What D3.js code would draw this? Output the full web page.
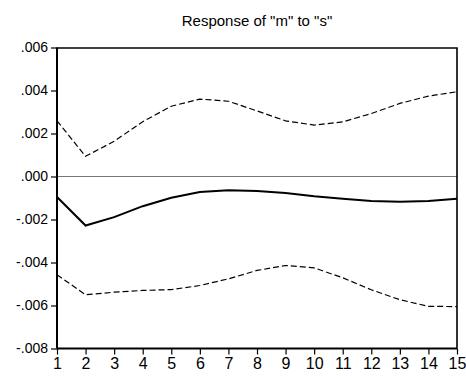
<!DOCTYPE html>
<html>
<head>
<meta charset="utf-8">
<script src="https://cdn.jsdelivr.net/npm/d3@7/dist/d3.min.js"></script>
<style>
  body { margin: 0; background: #fff; }
  text { font-family: Arial, "Liberation Sans", sans-serif; fill: #000; }
</style>
</head>
<body>
<svg id="chart" width="466" height="376"></svg>
<script>
const periods = [1, 2, 3, 4, 5, 6, 7, 8, 9, 10, 11, 12, 13, 14, 15];
const response = [-0.00095, -0.00228, -0.00189, -0.00138, -0.00099, -0.00072, -0.00064, -0.00068,
  -0.00077, -0.00092, -0.00103, -0.00114, -0.00118, -0.00114, -0.00103];
const upperBand = [0.00259, 0.00094, 0.00164, 0.00255, 0.00327, 0.0036, 0.0035, 0.00305,
  0.00259, 0.00239, 0.00254, 0.00293, 0.0034, 0.00374, 0.00394];
const lowerBand = [-0.00457, -0.0055, -0.00538, -0.0053, -0.00526, -0.00507, -0.00476, -0.00437,
  -0.00414, -0.00425, -0.00471, -0.00527, -0.00573, -0.00604, -0.00605];
const yTicks = [0.006, 0.004, 0.002, 0, -0.002, -0.004, -0.006, -0.008];
const yTickLabels = ['.006', '.004', '.002', '.000', '-.002', '-.004', '-.006', '-.008'];
const title = 'Response of "m" to "s"';

const margin = { top: 47.5, right: 9, bottom: 27.5, left: 57 };
const width = 466, height = 376;
const chartWidth = width - margin.left - margin.right;
const chartHeight = height - margin.top - margin.bottom;

const svg = d3.select('#chart');

const xScale = d3.scaleLinear().domain([1, 15]).range([0, chartWidth]);
const yScale = d3.scaleLinear().domain([-0.008, 0.006]).range([chartHeight, 0]);

const g = svg.append('g')
  .attr('transform', `translate(${margin.left},${margin.top})`);

// title
svg.append('text')
  .attr('x', margin.left + chartWidth / 2)
  .attr('y', 26)
  .attr('text-anchor', 'middle')
  .style('font-size', '15px')
  .text(title);

// zero line
g.append('line')
  .attr('x1', 0).attr('x2', chartWidth)
  .attr('y1', yScale(0)).attr('y2', yScale(0))
  .attr('stroke', '#777')
  .attr('stroke-width', 1);

// frame (top + right)
g.append('path')
  .attr('d', `M0,0.5H${chartWidth}V${chartHeight}`)
  .attr('fill', 'none')
  .attr('stroke', '#000')
  .attr('stroke-width', 1.6);

const yAxis = d3.axisLeft(yScale)
  .tickValues(yTicks)
  .tickSize(6)
  .tickPadding(3)
  .tickFormat((d, i) => yTickLabels[i]);

const xAxis = d3.axisBottom(xScale)
  .tickValues(periods)
  .tickSize(6)
  .tickPadding(3)
  .tickFormat(d3.format('d'));

const yAxisG = g.append('g').attr('class', 'y axis').call(yAxis);
const xAxisG = g.append('g').attr('class', 'x axis')
  .attr('transform', `translate(0,${chartHeight})`)
  .call(xAxis);

[yAxisG, xAxisG].forEach((ax) => {
  ax.select('.domain').attr('stroke', '#000').attr('stroke-width', 2);
  ax.selectAll('.tick line').attr('stroke', '#000').attr('stroke-width', 1.2);
  ax.selectAll('.tick text').attr('fill', '#000').style('font-family', 'Arial, "Liberation Sans", sans-serif');
});
yAxisG.select('.domain').attr('d', `M0,${chartHeight}V0`);
xAxisG.select('.domain').attr('d', `M0,0H${chartWidth}`);
yAxisG.selectAll('.tick text').style('font-size', '14px');
xAxisG.selectAll('.tick text').style('font-size', '16px');

const line = (values) => d3.line()
  .x((d, i) => xScale(periods[i]))
  .y((d) => yScale(d))(values);

g.append('path')
  .attr('d', line(upperBand))
  .attr('fill', 'none')
  .attr('stroke', '#000')
  .attr('stroke-width', 1.2)
  .attr('stroke-dasharray', '6,3');

g.append('path')
  .attr('d', line(lowerBand))
  .attr('fill', 'none')
  .attr('stroke', '#000')
  .attr('stroke-width', 1.2)
  .attr('stroke-dasharray', '6,3');

g.append('path')
  .attr('d', line(response))
  .attr('fill', 'none')
  .attr('stroke', '#000')
  .attr('stroke-width', 2);
</script>
</body>
</html>
